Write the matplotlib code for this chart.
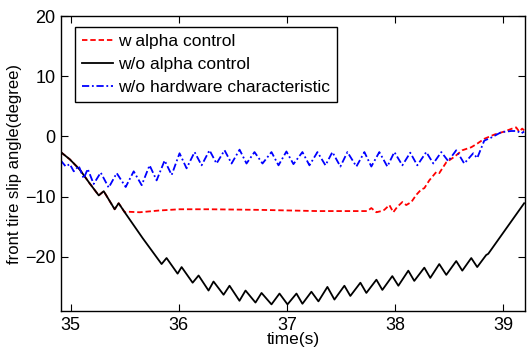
import matplotlib.pyplot as plt
import numpy as np

plt.rcParams['font.family'] = ['Liberation Sans', 'DejaVu Sans']

# black: w/o alpha control
t_black = [34.908, 34.991, 35.083, 35.175, 35.259, 35.305, 35.406, 35.443, 35.499,
           35.665, 35.840, 35.886, 35.988, 36.025, 36.127, 36.182, 36.274, 36.320,
           36.413, 36.468, 36.560, 36.616, 36.708, 36.764, 36.856, 36.930, 37.004,
           37.087, 37.142, 37.225, 37.290, 37.373, 37.438, 37.530, 37.585, 37.678,
           37.733, 37.826, 37.881, 37.973, 38.029, 38.121, 38.176, 38.269, 38.324,
           38.407, 38.472, 38.564, 38.620, 38.703, 38.758, 38.841, 38.860, 39.192]
y_black = [-2.6, -3.8, -5.5, -7.8, -9.8, -9.1, -12.1, -11.1, -12.6,
           -16.9, -21.2, -20.2, -22.8, -21.7, -24.3, -23.1, -25.6, -24.1,
           -26.3, -24.8, -27.3, -25.6, -27.6, -26.0, -27.9, -26.1, -27.9,
           -26.1, -27.8, -25.8, -27.4, -25.0, -27.1, -24.8, -26.5, -24.3,
           -26.0, -23.8, -25.5, -23.2, -24.8, -22.3, -24.0, -21.8, -23.5,
           -21.2, -23.0, -20.7, -22.3, -20.2, -21.7, -19.7, -19.5, -11.1]

# red: w alpha control
t_red = [34.908, 34.991, 35.083, 35.175, 35.259, 35.305, 35.406, 35.443, 35.499,
         35.517, 35.637, 35.822, 36.006, 36.283, 36.745, 37.281, 37.742, 37.779,
         37.826, 37.872, 37.899, 37.946, 37.982, 38.019, 38.066, 38.102, 38.149,
         38.195, 38.241, 38.269, 38.315, 38.380, 38.407, 38.472, 38.546, 38.620,
         38.703, 38.758, 38.823, 38.915, 39.007, 39.081, 39.118, 39.146, 39.174, 39.192]
y_red = [-2.6, -3.8, -5.5, -7.8, -9.8, -9.1, -12.1, -11.1, -12.6,
         -12.5, -12.6, -12.3, -12.1, -12.1, -12.2, -12.4, -12.4, -11.9,
         -12.6, -12.4, -12.2, -11.4, -12.6, -11.7, -10.9, -11.4, -10.9,
         -9.7, -8.8, -8.6, -7.3, -5.9, -6.1, -4.3, -3.4, -2.3,
         -1.8, -1.2, -0.4, 0.3, 0.8, 1.3, 1.5, 0.8, 1.3, 1.0]

# blue: w/o hardware characteristic
t_blue = [34.908, 34.954, 34.991, 35.028, 35.074, 35.120, 35.157, 35.212, 35.277,
          35.351, 35.425, 35.508, 35.582, 35.656, 35.729, 35.794, 35.868, 35.933,
          36.006, 36.071, 36.145, 36.210, 36.283, 36.348, 36.422, 36.487, 36.561,
          36.625, 36.699, 36.773, 36.856, 36.921, 36.994, 37.059, 37.142, 37.207,
          37.281, 37.355, 37.419, 37.493, 37.558, 37.641, 37.715, 37.779, 37.853,
          37.927, 37.992, 38.066, 38.139, 38.204, 38.287, 38.352, 38.426, 38.490,
          38.564, 38.638, 38.721, 38.758, 38.823, 38.887, 38.980, 39.072, 39.127,
          39.164, 39.192]
y_blue = [-4.0, -5.0, -4.6, -5.8, -4.9, -7.0, -5.4, -7.9, -6.0,
          -8.5, -6.1, -8.4, -5.8, -8.1, -4.8, -7.3, -4.0, -6.4,
          -2.8, -5.3, -2.6, -4.8, -2.3, -4.5, -2.3, -4.5, -2.2,
          -4.5, -2.6, -4.5, -2.6, -4.8, -2.5, -4.6, -2.6, -4.8,
          -2.6, -4.8, -2.6, -5.0, -2.6, -5.0, -2.6, -5.0, -2.6,
          -5.0, -2.6, -4.8, -2.7, -4.8, -2.6, -4.5, -2.6, -4.1,
          -2.3, -4.5, -2.8, -3.6, -0.7, -0.2, 0.7, 0.9, 0.9,
          0.5, 0.8]

fig = plt.figure(figsize=(5.3, 3.56), dpi=100)
ax = fig.add_axes([0.1151, 0.1264, 0.8755, 0.8286])

ax.plot(t_red, y_red, color='red', linestyle='--', dashes=(3, 1.6), linewidth=1.3,
        label='w alpha control')
ax.plot(t_black, y_black, color='black', linestyle='-', linewidth=1.3,
        label='w/o alpha control')
ax.plot(t_blue, y_blue, color='blue', linestyle='-.', dashes=(4, 1.5, 1, 1.5),
        linewidth=1.3, label='w/o hardware characteristic')

ax.set_xlim(34.91, 39.2)
ax.set_ylim(-29, 20)
ax.set_xticks([35, 36, 37, 38, 39])
ax.set_yticks([-20, -10, 0, 10, 20])
ax.tick_params(direction='in', top=True, right=True, labelsize=13, length=5,
               width=0.8, pad=4)
for s in ax.spines.values():
    s.set_linewidth(1.0)

ax.set_xlabel('time(s)', fontsize=12.5, labelpad=-1)
ax.set_ylabel('front tire slip angle(degree)', fontsize=12, labelpad=2)

leg = ax.legend(loc='upper left', bbox_to_anchor=(0.03, 0.963), borderaxespad=0,
                fontsize=12.5, handlelength=1.8, handletextpad=0.3, labelspacing=0.45,
                fancybox=False, framealpha=1, edgecolor='black', borderpad=0.4)
leg.get_frame().set_linewidth(1.0)

fig.savefig('out.png', dpi=100)
